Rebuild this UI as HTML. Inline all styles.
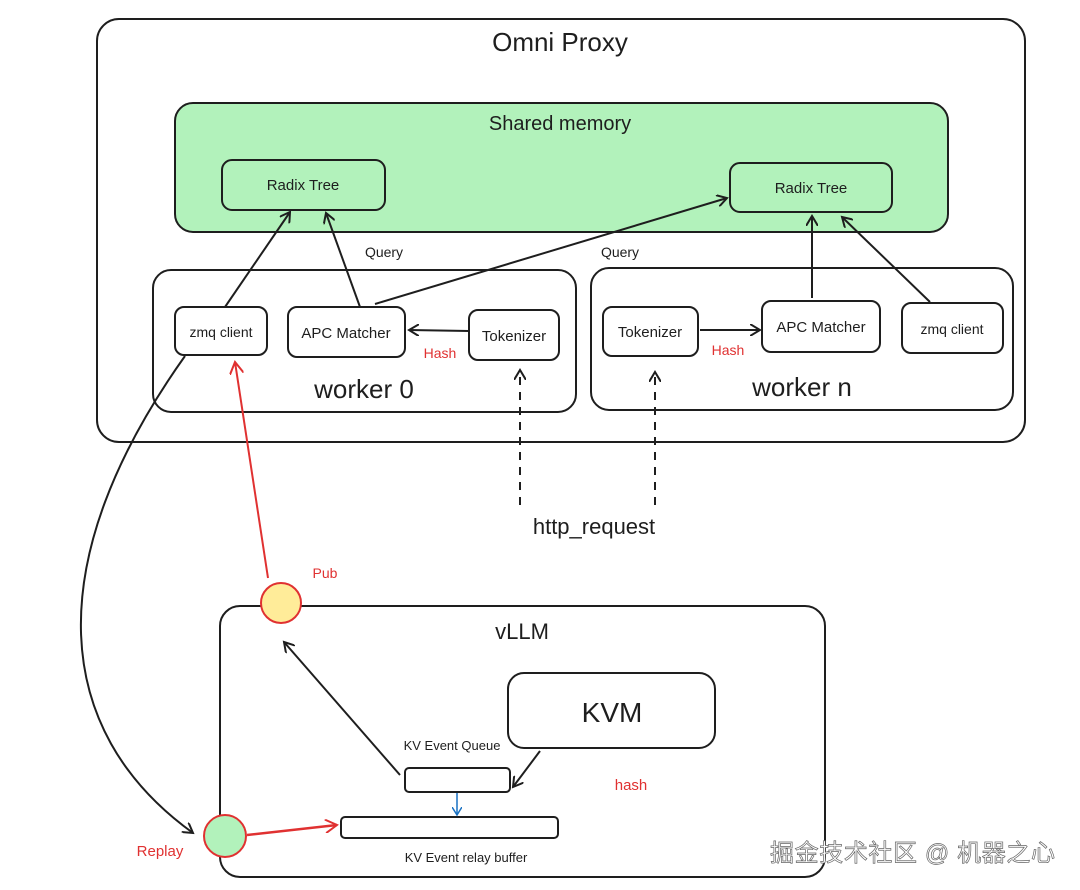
<!DOCTYPE html>
<html><head><meta charset="utf-8"><style>
html,body{margin:0;padding:0;background:#fff;}
svg{display:block;}
text{font-family:"Liberation Sans","Noto Sans CJK SC",sans-serif;fill:#1e1e1e;}
</style></head><body>
<svg width="1080" height="890" viewBox="0 0 1080 890" xmlns="http://www.w3.org/2000/svg">
<defs>
<marker id="a" markerWidth="12" markerHeight="12" refX="10" refY="6" orient="auto" markerUnits="userSpaceOnUse"><path d="M0,0 L10,6 L0,12" fill="none" stroke="#1e1e1e" stroke-width="2"/></marker>
<marker id="r" markerWidth="14" markerHeight="14" refX="12" refY="7" orient="auto" markerUnits="userSpaceOnUse"><path d="M0,0 L12,7 L0,14" fill="none" stroke="#e03131" stroke-width="2"/></marker>
<marker id="b" markerWidth="10" markerHeight="10" refX="8" refY="5" orient="auto" markerUnits="userSpaceOnUse"><path d="M0,0 L8,5 L0,10" fill="none" stroke="#1971c2" stroke-width="1.5"/></marker>
</defs>
<g fill="none" stroke="#1e1e1e" stroke-width="2">
<rect x="97" y="19" width="928" height="423" rx="22"/>
<rect x="175" y="103" width="773" height="129" rx="18" fill="#b2f2bb"/>
<rect x="222" y="160" width="163" height="50" rx="10" fill="#b2f2bb"/>
<rect x="730" y="163" width="162" height="49" rx="10" fill="#b2f2bb"/>
<rect x="153" y="270" width="423" height="142" rx="18"/>
<rect x="591" y="268" width="422" height="142" rx="18"/>
<rect x="175" y="307" width="92" height="48" rx="9"/>
<rect x="288" y="307" width="117" height="50" rx="9"/>
<rect x="469" y="310" width="90" height="50" rx="9"/>
<rect x="603" y="307" width="95" height="49" rx="9"/>
<rect x="762" y="301" width="118" height="51" rx="9"/>
<rect x="902" y="303" width="101" height="50" rx="9"/>
<rect x="220" y="606" width="605" height="271" rx="20"/>
<rect x="508" y="673" width="207" height="75" rx="16"/>
<rect x="405" y="768" width="105" height="24" rx="4"/>
<rect x="341" y="817" width="217" height="21" rx="4"/>
<line x1="225" y1="307" x2="290" y2="212" marker-end="url(#a)"/>
<line x1="360" y1="307" x2="326" y2="213" marker-end="url(#a)"/>
<line x1="375" y1="304" x2="727" y2="198" marker-end="url(#a)"/>
<line x1="812" y1="298" x2="812" y2="216" marker-end="url(#a)"/>
<line x1="930" y1="302" x2="842" y2="217" marker-end="url(#a)"/>
<line x1="469" y1="331" x2="409" y2="330" marker-end="url(#a)"/>
<line x1="700" y1="330" x2="760" y2="330" marker-end="url(#a)"/>
<line x1="520" y1="505" x2="520" y2="370" stroke-dasharray="8 7" marker-end="url(#a)"/>
<line x1="655" y1="505" x2="655" y2="372" stroke-dasharray="8 7" marker-end="url(#a)"/>
<line x1="400" y1="775" x2="284" y2="642" marker-end="url(#a)"/>
<line x1="540" y1="751" x2="513" y2="787" marker-end="url(#a)"/>
<path d="M185,356 C 40,560 50,730 193,833" marker-end="url(#a)"/>
</g>
<line x1="268" y1="578" x2="235" y2="362" stroke="#e03131" stroke-width="2" marker-end="url(#r)"/>
<line x1="247" y1="835" x2="337" y2="825" stroke="#e03131" stroke-width="2.5" marker-end="url(#r)"/>
<line x1="457" y1="793" x2="457" y2="815" stroke="#1971c2" stroke-width="1.5" marker-end="url(#b)"/>
<circle cx="281" cy="603" r="20" fill="#ffec99" stroke="#e03131" stroke-width="2"/>
<circle cx="225" cy="836" r="21" fill="#b2f2bb" stroke="#e03131" stroke-width="2"/>
<g text-anchor="middle">
<text x="560" y="51" font-size="26">Omni Proxy</text>
<text x="560" y="130" font-size="20">Shared memory</text>
<text x="303" y="190" font-size="15">Radix Tree</text>
<text x="811" y="193" font-size="15">Radix Tree</text>
<text x="384" y="257" font-size="14">Query</text>
<text x="620" y="257" font-size="14">Query</text>
<text x="221" y="337" font-size="14">zmq client</text>
<text x="346" y="338" font-size="15">APC Matcher</text>
<text x="514" y="341" font-size="15">Tokenizer</text>
<text x="650" y="337" font-size="15">Tokenizer</text>
<text x="821" y="332" font-size="15">APC Matcher</text>
<text x="952" y="334" font-size="14">zmq client</text>
<text x="364" y="398" font-size="26">worker 0</text>
<text x="802" y="396" font-size="26">worker n</text>
<text x="440" y="358" font-size="14" style="fill:#e03131">Hash</text>
<text x="728" y="355" font-size="14" style="fill:#e03131">Hash</text>
<text x="594" y="534" font-size="22">http_request</text>
<text x="325" y="578" font-size="14" style="fill:#e03131">Pub</text>
<text x="522" y="639" font-size="22">vLLM</text>
<text x="612" y="722" font-size="28">KVM</text>
<text x="452" y="750" font-size="13">KV Event Queue</text>
<text x="631" y="790" font-size="15" style="fill:#e03131">hash</text>
<text x="466" y="862" font-size="13">KV Event relay buffer</text>
<text x="160" y="856" font-size="15" style="fill:#e03131">Replay</text>
</g>
<text x="770" y="861" font-size="24" textLength="285" style="fill:#fff;stroke:#666;stroke-width:0.7">掘金技术社区 @ 机器之心</text>
</svg>
</body></html>
